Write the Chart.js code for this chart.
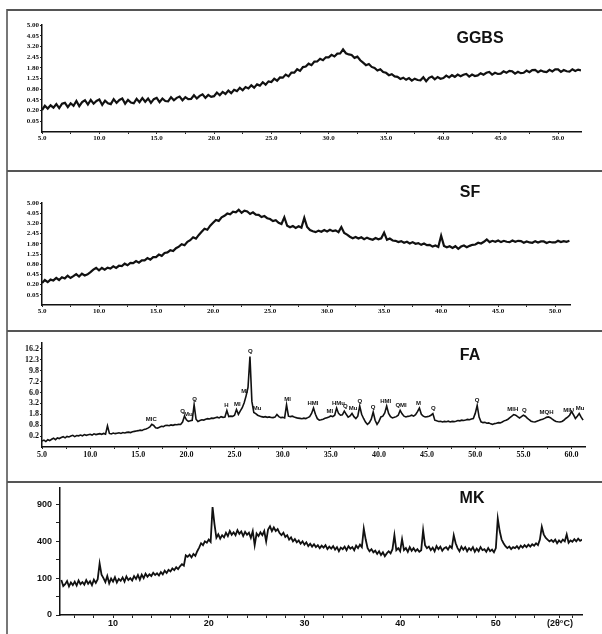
<!DOCTYPE html>
<html>
<head>
<meta charset="utf-8">
<script src="https://cdn.jsdelivr.net/npm/chart.js@4.4.1/dist/chart.umd.min.js"></script>
<style>
  body { margin: 0; background: #fff; }
  #page { position: relative; width: 602px; height: 634px; overflow: hidden; }
  canvas { position: absolute; left: 0; }
  .rule { position: absolute; left: 7px; right: 0; height: 2px; background: #555; }
  .side { position: absolute; left: 6px; top: 9px; width: 2px; height: 625px; background: #777; }
  .title { position: absolute; font: bold 16px "Liberation Sans", Arial, sans-serif; color: #111; transform: translate(-50%, -50%); }
</style>
</head>
<body>
<div id="page">
  <div class="side"></div>
  <div class="rule" style="top:9px"></div>
  <div class="rule" style="top:170px"></div>
  <div class="rule" style="top:330px"></div>
  <div class="rule" style="top:481px"></div>

  <canvas id="ggbs" width="602" height="158" style="top:11px"></canvas>
  <canvas id="sf" width="602" height="157" style="top:172px"></canvas>
  <canvas id="fa" width="602" height="148" style="top:332px"></canvas>
  <canvas id="mk" width="602" height="151" style="top:483px"></canvas>

  <div class="title" style="left:480px; top:38px">GGBS</div>
  <div class="title" style="left:470px; top:192px">SF</div>
  <div class="title" style="left:470px; top:355px">FA</div>
  <div class="title" style="left:472px; top:498px">MK</div>
</div>

<script>
// ---- GGBS scan, 2-theta from 5.00 every 0.25 ----
const ggbsStart = 5, ggbsStep = 0.25;
const ggbsCounts = [
  0.21, 0.30, 0.24, 0.31,  0.26, 0.34, 0.25, 0.35,  0.37, 0.27, 0.36, 0.30,  0.42, 0.29, 0.39, 0.44,
  0.33, 0.45, 0.35, 0.42,  0.46, 0.32, 0.43, 0.36,  0.34, 0.47, 0.37, 0.45,  0.49, 0.35, 0.45, 0.38,
  0.36, 0.48, 0.39, 0.50,  0.40, 0.49, 0.37, 0.47,  0.51, 0.39, 0.49, 0.42,  0.41, 0.53, 0.44, 0.51,
  0.55, 0.44, 0.53, 0.47,  0.48, 0.59, 0.49, 0.57,  0.62, 0.51, 0.60, 0.54,  0.56, 0.68, 0.59, 0.70,
  0.63, 0.75, 0.66, 0.78,  0.73, 0.85, 0.76, 0.88,  0.83, 0.95, 0.86, 0.99,  0.94, 1.08, 0.98, 1.12,
  1.09, 1.24, 1.15, 1.30,  1.29, 1.44, 1.35, 1.54,  1.54, 1.72, 1.63, 1.84,  1.87, 2.04, 1.95, 2.16,
  2.17, 2.34, 2.25, 2.44,  2.43, 2.60, 2.49, 2.68,  2.69, 2.98, 2.71, 2.63,  2.59, 2.40, 2.48, 2.25,
  2.10, 1.95, 2.02, 1.85,  1.79, 1.65, 1.72, 1.57,  1.53, 1.41, 1.46, 1.35,  1.33, 1.23, 1.29, 1.19,
  1.27, 1.15, 1.24, 1.18,  1.17, 1.31, 1.13, 1.28,  1.34, 1.21, 1.32, 1.24,  1.27, 1.39, 1.30, 1.41,
  1.33, 1.44, 1.36, 1.43,  1.47, 1.34, 1.44, 1.37,  1.40, 1.51, 1.43, 1.53,  1.57, 1.44, 1.53, 1.47,
  1.49, 1.61, 1.53, 1.63,  1.61, 1.49, 1.58, 1.51,  1.53, 1.65, 1.56, 1.67,  1.68, 1.56, 1.65, 1.59,
  1.57, 1.69, 1.60, 1.71,  1.71, 1.58, 1.68, 1.61,  1.59, 1.72, 1.63, 1.70,  1.66
];

// ---- SF scan, 2-theta from 5.00 every 0.25 ----
const sfStart = 5, sfStep = 0.25;
const sfCounts = [
  0.23, 0.30, 0.25, 0.31,  0.29, 0.35, 0.30, 0.37,  0.34, 0.41, 0.35, 0.40,  0.46, 0.39, 0.47, 0.42,
  0.45, 0.52, 0.60, 0.66,  0.58, 0.66, 0.60, 0.67,  0.64, 0.72, 0.66, 0.74,  0.73, 0.82, 0.76, 0.85,
  0.84, 0.93, 0.86, 0.96,  0.96, 1.06, 0.99, 1.10,  1.10, 1.22, 1.16, 1.30,  1.33, 1.44, 1.40, 1.55,
  1.64, 1.78, 1.72, 1.92,  2.02, 2.20, 2.12, 2.36,  2.58, 2.80, 2.72, 3.02,  3.25, 3.48, 3.40, 3.70,
  3.82, 4.02, 3.95, 4.18,  4.12, 4.35, 4.08, 4.28,  4.20, 3.98, 4.12, 3.92,  3.90, 3.72, 3.80, 3.62,
  3.55, 3.38, 3.46, 3.25,  3.15, 3.70, 3.02, 2.90,  3.00, 2.86, 2.98, 2.88,  3.65, 2.92, 2.70, 2.62,
  2.55, 2.66, 2.58, 2.70,  2.60, 2.72, 2.62, 2.68,  2.55, 2.92, 2.50, 2.38,  2.24, 2.14, 2.22, 2.12,
  2.20, 2.08, 2.18, 2.10,  2.05, 2.16, 2.08, 2.14,  2.52, 2.04, 2.12, 2.00,  1.98, 1.90, 1.96, 1.86,
  1.92, 1.82, 1.90, 1.80,  1.84, 1.74, 1.82, 1.72,  1.74, 1.64, 1.70, 1.62,  2.30, 1.68, 1.60, 1.66,
  1.56, 1.66, 1.52, 1.64,  1.70, 1.60, 1.68, 1.74,  1.76, 1.86, 1.82, 1.92,  2.06, 1.90, 1.98, 1.92,
  2.00, 1.90, 1.98, 1.92,  1.90, 2.00, 1.92, 1.98,  1.96, 1.86, 1.94, 1.88,  1.86, 1.96, 1.88, 1.94,
  1.94, 1.85, 1.92, 1.88,  1.88, 1.98, 1.90, 1.96,  1.92, 1.98
];

// ---- FA scan, 2-theta from 5.0 every 0.2 ----
const faStart = 5, faStep = 0.2;
const faCounts = [
  0.06, 0.08, 0.05, 0.09, 0.07,   0.10, 0.13, 0.09, 0.14, 0.12,   0.15, 0.18, 0.14, 0.19, 0.17,
  0.20, 0.23, 0.18, 0.22, 0.21,   0.24, 0.21, 0.26, 0.23, 0.25,   0.27, 0.24, 0.29, 0.26, 0.28,
  0.30, 0.27, 0.31, 0.28, 0.75,   0.31, 0.29, 0.33, 0.30, 0.32,   0.34, 0.31, 0.35, 0.33, 0.36,
  0.37, 0.35, 0.39, 0.41, 0.43,   0.45, 0.48, 0.46, 0.52, 0.55,   0.60, 0.68, 0.86, 0.78, 0.62,
  0.60, 0.66, 0.72, 0.70, 0.78,   0.80, 0.76, 0.82, 0.79, 0.84,   0.83, 0.86, 0.85, 1.05, 1.62,
  1.25, 1.10, 1.15, 1.20, 3.00,   1.30, 1.09, 1.18, 1.25, 1.22,   1.30, 1.35, 1.32, 1.40, 1.38,
  1.45, 1.50, 1.42, 1.55, 1.48,   1.52, 2.25, 1.55, 1.60, 1.58,   1.70, 2.37, 1.80, 2.20, 2.60,
  3.30, 4.40, 6.00, 13.8, 3.50,   2.00, 1.88, 1.70, 1.62, 1.55,   1.50, 1.55, 1.48, 1.52, 1.46,
  1.45, 1.50, 1.77, 1.55, 1.45,   1.48, 1.42, 3.00, 1.60, 1.55,   1.60, 1.52, 1.45, 1.40, 1.38,
  1.35, 1.40, 1.36, 1.45, 1.55,   1.90, 2.55, 1.80, 1.35, 1.21,   1.25, 1.30, 1.38, 1.45, 1.52,
  1.62, 1.55, 1.70, 2.55, 1.90,   1.70, 1.75, 2.17, 1.80, 1.50,   1.62, 1.90, 1.55, 1.37, 1.60,
  2.82, 1.80, 1.37, 1.05, 0.86,   1.00, 1.30, 2.06, 1.20, 0.86,   1.10, 1.52, 1.60, 1.95, 2.82,
  1.90, 1.55, 1.42, 1.48, 1.55,   1.70, 2.25, 1.85, 1.60, 1.52,   1.58, 1.62, 1.70, 1.60, 1.75,
  2.10, 2.55, 1.80, 1.60, 1.52,   1.55, 1.60, 1.70, 1.88, 1.21,   1.15, 1.10, 1.12, 1.05, 1.10,
  1.07, 1.12, 1.05, 1.10, 1.08,   1.12, 1.18, 1.15, 1.21, 1.18,   1.22, 1.28, 1.25, 1.32, 1.37,
  1.90, 2.90, 1.50, 1.07, 1.00,   1.02, 0.95, 0.98, 0.90, 0.86,   0.92, 0.95, 1.00, 0.98, 1.05,
  1.15, 1.21, 1.30, 1.45, 1.60,   1.77, 1.70, 1.55, 1.42, 1.55,   1.70, 1.60, 1.40, 1.25, 1.12,
  1.07, 1.05, 1.12, 1.18, 1.25,   1.30, 1.38, 1.48, 1.52, 1.45,   1.30, 1.18, 1.10, 1.07, 1.05,
  1.10, 1.20, 1.37, 1.50, 1.70,   2.14, 1.75, 1.37, 1.60, 1.88,   1.50, 1.21
];
// phase marks printed over the FA peaks: [2-theta, text]
const faPeaks = [
  [16.36, 'MIC'], [19.6, 'Q'], [20.2, 'Mu'], [20.86, 'Q'], [24.15, 'H'], [25.3, 'MI'],
  [26.05, 'MI'], [26.64, 'Q'], [27.33, 'Mu'], [30.5, 'MI'], [33.14, 'HMI'], [34.9, 'MI'],
  [35.8, 'HMu'], [36.5, 'Q'], [37.3, 'Mu'], [38.0, 'Q'], [39.4, 'Q'], [40.7, 'HMI'],
  [42.3, 'QMI'], [44.1, 'M'], [45.65, 'Q'], [50.2, 'Q'], [53.9, 'MIH'], [55.1, 'Q'],
  [57.4, 'MQH'], [59.7, 'MIU'], [60.9, 'Mu']
];

// ---- MK scan, 2-theta from 4.6 every 0.2 ----
const mkStart = 4.6, mkStep = 0.2;
const mkCounts = [
  90, 62,
  70, 85, 60, 78, 66,   82, 64, 88, 70, 80,   68, 90, 72, 84, 66,   92, 76, 95, 196, 120,
  100, 80, 112, 74, 98,   82, 105, 78, 96, 86,   104, 82, 110, 90, 100,   88, 112, 96, 118, 92,
  120, 100, 126, 108, 122,   112, 132, 118, 128, 115,   136, 122, 145, 130, 150,   140, 160, 148, 168, 155,
  175, 190, 180, 262, 250,   268, 245, 275, 258, 300,   335, 380, 360, 400, 385,   420, 395, 860, 610, 440,
  480, 430, 470, 445, 500,   460, 520, 475, 505, 470,   530, 485, 515, 460, 510,   475, 500, 440, 520, 360,
  490, 460, 505, 470, 520,   400, 540, 580, 520, 565,   520, 545, 495, 470, 500,   450, 470, 420, 445, 400,
  425, 390, 410, 375, 400,   365, 390, 350, 375, 345,   370, 340, 360, 330, 355,   335, 360, 320, 345, 325,
  350, 315, 340, 300, 335,   320, 345, 310, 350, 325,   340, 310, 355, 330, 365,   340, 552, 420, 330, 300,
  320, 290, 305, 275, 300,   265, 290, 255, 280, 300,   280, 320, 470, 310, 330,   300, 424, 310, 330, 295,
  340, 305, 330, 300, 320,   295, 310, 530, 360, 330,   345, 310, 335, 300, 350,   320, 345, 305, 330, 340,
  315, 350, 330, 470, 380,   330, 300, 345, 315, 340,   300, 330, 310, 340, 295,   325, 300, 340, 310, 320,
  295, 330, 300, 315, 290,   330, 687, 520, 420, 380,   350, 330, 345, 320, 340,   330, 350, 325, 355, 335,
  360, 340, 365, 345, 370,   355, 380, 360, 420, 573,   480, 440, 420, 400, 415,   395, 420, 380, 410, 390,
  420, 400, 479, 385, 410,   395, 425, 400, 430, 405,
  420
];

// ---- axis ticks ----
const sqTicks = [0.05, 0.20, 0.45, 0.80, 1.25, 1.80, 2.45, 3.20, 4.05, 5.00];
const sqLabels = ['0.05', '0.20', '0.45', '0.80', '1.25', '1.80', '2.45', '3.20', '4.05', '5.00'];
const faYTicks = [0.2, 0.8, 1.8, 3.2, 5.0, 7.2, 9.8, 12.8, 16.2];
const faYLabels = ['0.2', '0.8', '1.8', '3.2', '6.0', '7.2', '9.8', '12.3', '16.2'];
const mkYTicks = [0, 100, 400, 900];
const mkYLabels = ['0', '100', '400', '900'];
const mkYMinor = [25, 225, 625];

const degTicks = [5, 10, 15, 20, 25, 30, 35, 40, 45, 50];
const degLabels = ['5.0', '10.0', '15.0', '20.0', '25.0', '30.0', '35.0', '40.0', '45.0', '50.0'];
const degMinor = [7.5, 12.5, 17.5, 22.5, 27.5, 32.5, 37.5, 42.5, 47.5];
const faXTicks = [5, 10, 15, 20, 25, 30, 35, 40, 45, 50, 55, 60];
const faXLabels = ['5.0', '10.0', '15.0', '20.0', '25.0', '30.0', '35.0', '40.0', '45.0', '50.0', '55.0', '60.0'];
const faXMinor = [7.5, 12.5, 17.5, 22.5, 27.5, 32.5, 37.5, 42.5, 47.5, 52.5, 57.5];
const mkXTicks = [10, 20, 30, 40, 50, 56.7];
const mkXLabels = ['10', '20', '30', '40', '50', '(2θ°C)'];
const mkXMinor = [6, 8, 12, 14, 16, 18, 22, 24, 26, 28, 32, 34, 36, 38, 42, 44, 46, 48, 52, 54, 58];

// square-root intensity axis, as the diffractometer prints it
class SqrtScale extends Chart.LinearScale {
  getPixelForValue(value) {
    const lo = Math.sqrt(Math.max(this.min, 0)), hi = Math.sqrt(this.max);
    return this.getPixelForDecimal((Math.sqrt(Math.max(value, 0)) - lo) / (hi - lo));
  }
  getValueForPixel(pixel) {
    const lo = Math.sqrt(Math.max(this.min, 0)), hi = Math.sqrt(this.max);
    const s = lo + this.getDecimalForPixel(pixel) * (hi - lo);
    return s * s;
  }
}
SqrtScale.id = 'sqrt';
SqrtScale.defaults = Chart.LinearScale.defaults;
Chart.register(SqrtScale);

const peakLabels = {
  id: 'peakLabels',
  afterDatasetsDraw(chart, args, opts) {
    if (!opts.items) return;
    const { ctx, scales: { x, y } } = chart;
    const pts = chart.data.datasets[0].data;
    ctx.save();
    ctx.font = 'bold 6px "Liberation Sans", Arial, sans-serif';
    ctx.fillStyle = '#111';
    ctx.textAlign = 'center';
    ctx.textBaseline = 'bottom';
    opts.items.forEach(([t, text]) => {
      let top = 0;
      pts.forEach(p => { if (Math.abs(p.x - t) <= 0.25 && p.y > top) top = p.y; });
      ctx.fillText(text, x.getPixelForValue(t), y.getPixelForValue(top) - 2);
    });
    ctx.restore();
  }
};

function series(start, step, values) {
  return values.map((v, i) => ({ x: +(start + i * step).toFixed(2), y: v }));
}

function fixedAxis(opts) {
  const all = opts.ticks.concat(opts.minor || []).sort((a, b) => a - b);
  return {
    type: opts.type, min: opts.min, max: opts.max,
    afterBuildTicks: s => { s.ticks = all.map(v => ({ value: v })); },
    afterFit: s => {
      if (opts.width) s.width = opts.width;
      if (opts.height) s.height = opts.height;
      s.paddingLeft = s.paddingRight = s.paddingTop = s.paddingBottom = 0;
    },
    ticks: {
      autoSkip: false, maxRotation: 0, padding: opts.pad, color: '#111', font: opts.font,
      callback: v => { const i = opts.ticks.indexOf(v); return i < 0 ? '' : opts.labels[i]; }
    },
    grid: { drawOnChartArea: false, tickLength: opts.tick, color: '#222', lineWidth: 1 },
    border: { color: '#111', width: 1.5 }
  };
}

// box = chart area in canvas pixels
function scan(id, box, data, x, y, lw, peaks) {
  const cv = document.getElementById(id);
  return new Chart(cv, {
    type: 'line',
    data: { datasets: [{ data, borderColor: '#111', borderWidth: lw, pointRadius: 0, tension: 0 }] },
    options: {
      responsive: false, animation: false, devicePixelRatio: 1,
      layout: { padding: { left: 0, top: box.top, right: cv.width - box.right, bottom: cv.height - box.bottom - x.height } },
      scales: { x: fixedAxis(x), y: fixedAxis(y) },
      plugins: { legend: { display: false }, tooltip: { enabled: false }, peakLabels: { items: peaks } }
    },
    plugins: [peakLabels]
  });
}

const serif7 = { family: '"Liberation Serif", "Times New Roman", serif', size: 7, weight: 'bold' };
const serif8 = { family: '"Liberation Serif", "Times New Roman", serif', size: 8, weight: 'bold' };
const sans9 = { family: '"Liberation Sans", Arial, sans-serif', size: 9, weight: 'bold' };

scan('ggbs', { top: 14, right: 581, bottom: 121 }, series(ggbsStart, ggbsStep, ggbsCounts),
  { type: 'linear', min: 5, max: 52, ticks: degTicks, labels: degLabels, minor: degMinor, height: 20, tick: 2, pad: 0, font: serif7 },
  { type: 'sqrt', min: 0, max: 5, ticks: sqTicks, labels: sqLabels, width: 42, tick: 2, pad: 1, font: serif7 }, 2.2);

scan('sf', { top: 31, right: 570, bottom: 133 }, series(sfStart, sfStep, sfCounts),
  { type: 'linear', min: 5, max: 51.3, ticks: degTicks, labels: degLabels, minor: degMinor, height: 20, tick: 2, pad: 0, font: serif7 },
  { type: 'sqrt', min: 0, max: 5, ticks: sqTicks, labels: sqLabels, width: 42, tick: 2, pad: 1, font: serif7 }, 2.2);

scan('fa', { top: 11, right: 585, bottom: 115 }, series(faStart, faStep, faCounts),
  { type: 'linear', min: 5, max: 61.4, ticks: faXTicks, labels: faXLabels, minor: faXMinor, height: 20, tick: 2, pad: 1, font: serif8 },
  { type: 'sqrt', min: 0, max: 18.2, ticks: faYTicks, labels: faYLabels, width: 42, tick: 2, pad: 1, font: serif8 }, 1.6,
  faPeaks);

scan('mk', { top: 5, right: 582, bottom: 132 }, series(mkStart, mkStep, mkCounts),
  { type: 'linear', min: 4.46, max: 59, ticks: mkXTicks, labels: mkXLabels, minor: mkXMinor, height: 18, tick: 3, pad: 0, font: sans9 },
  { type: 'sqrt', min: 0, max: 1190, ticks: mkYTicks, labels: mkYLabels, minor: mkYMinor, width: 60, tick: 4, pad: 4, font: sans9 }, 1.8);
</script>
</body>
</html>
